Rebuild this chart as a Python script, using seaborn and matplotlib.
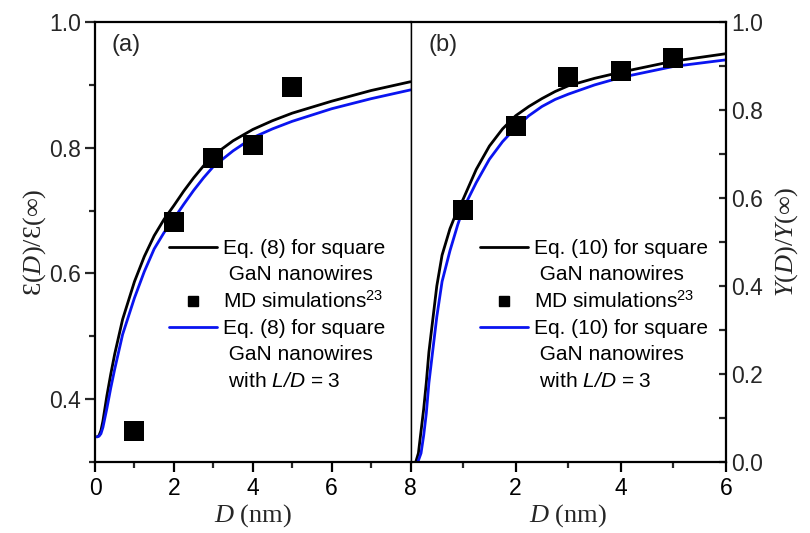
import numpy as np
import pandas as pd
import matplotlib
matplotlib.use("Agg")
import matplotlib.pyplot as plt
import seaborn as sns
from matplotlib.lines import Line2D
from matplotlib.ticker import FixedLocator

# ---------------- data ----------------
md_D = [1, 2, 3, 4, 5]
md_eps = [0.350, 0.682, 0.783, 0.805, 0.896]
md_Y = [0.572, 0.764, 0.874, 0.889, 0.919]

eq8_D = [0.05, 0.1, 0.15, 0.2, 0.3, 0.4, 0.5, 0.7, 1.0, 1.25, 1.5, 1.75, 2.0,
         2.25, 2.5, 2.75, 3.0, 3.5, 4.0, 4.5, 5.0, 6.0, 7.0, 8.0]
eq8_black = [0.340, 0.342, 0.350, 0.365, 0.405, 0.440, 0.472, 0.527, 0.587,
             0.627, 0.660, 0.686, 0.708, 0.731, 0.752, 0.771, 0.788, 0.811,
             0.829, 0.843, 0.855, 0.874, 0.891, 0.905]
eq8_blue = [0.340, 0.341, 0.345, 0.355, 0.385, 0.418, 0.448, 0.503, 0.561,
            0.603, 0.639, 0.665, 0.687, 0.710, 0.732, 0.752, 0.770, 0.795,
            0.816, 0.830, 0.842, 0.862, 0.878, 0.892]

eq10_D_black = [0.10, 0.15, 0.2, 0.25, 0.3, 0.35, 0.4, 0.5, 0.6, 0.75, 0.9,
                1.0, 1.25, 1.5, 1.75, 2.0, 2.25, 2.5, 2.75, 3.0, 3.5, 4.0,
                5.0, 6.0]
eq10_black = [0.0, 0.02, 0.07, 0.12, 0.18, 0.25, 0.30, 0.40, 0.47, 0.53,
              0.575, 0.597, 0.665, 0.718, 0.757, 0.787, 0.808, 0.826, 0.842,
              0.855, 0.872, 0.886, 0.911, 0.928]
eq10_D_blue = [0.14, 0.2, 0.25, 0.3, 0.35, 0.4, 0.5, 0.6, 0.75, 0.9, 1.0,
               1.25, 1.5, 1.75, 2.0, 2.25, 2.5, 2.75, 3.0, 3.5, 4.0, 5.0, 6.0]
eq10_blue = [0.0, 0.02, 0.06, 0.11, 0.18, 0.23, 0.33, 0.41, 0.48, 0.54,
             0.575, 0.635, 0.688, 0.728, 0.760, 0.787, 0.808, 0.824, 0.836,
             0.857, 0.874, 0.899, 0.914]

x_ticks_a = [0, 2, 4, 6, 8]
x_ticks_b = [2, 4, 6]
y_ticks_a = [0.4, 0.6, 0.8, 1.0]
y_ticks_b = [0.0, 0.2, 0.4, 0.6, 0.8, 1.0]

# ---------------- style ----------------
sns.set_theme(style="white")
plt.rcParams["font.family"] = ["Liberation Sans", "DejaVu Sans"]
plt.rcParams["mathtext.fontset"] = "custom"
plt.rcParams["mathtext.rm"] = "Liberation Serif"
plt.rcParams["mathtext.it"] = "Liberation Serif:italic"
plt.rcParams["mathtext.bf"] = "Liberation Sans:italic"
plt.rcParams["mathtext.sf"] = "Liberation Sans"

BLUE = "#0a14f0"
LW = 2.0
TICK_FS = 16.5
LEG_FS = 15
LAB_FS = 19

fig = plt.figure(figsize=(8.10, 5.33), dpi=100)
ax1 = fig.add_axes([0.1173, 0.1332, 0.3895, 0.8255])
ax2 = fig.add_axes([0.5068, 0.1332, 0.3895, 0.8255])

# ---------------- panel (a) ----------------
df_a_black = pd.DataFrame({"D": eq8_D, "v": eq8_black})
df_a_blue = pd.DataFrame({"D": eq8_D, "v": eq8_blue})
df_a_md = pd.DataFrame({"D": md_D, "v": md_eps})
sns.lineplot(data=df_a_black, x="D", y="v", ax=ax1, color="black", lw=LW,
             sort=False, estimator=None)
sns.lineplot(data=df_a_blue, x="D", y="v", ax=ax1, color=BLUE, lw=LW,
             sort=False, estimator=None)
sns.scatterplot(data=df_a_md, x="D", y="v", ax=ax1, marker="s", s=200,
                color="black", edgecolor="black", linewidth=0, zorder=5)

# ---------------- panel (b) ----------------
df_b_black = pd.DataFrame({"D": eq10_D_black, "v": eq10_black})
df_b_blue = pd.DataFrame({"D": eq10_D_blue, "v": eq10_blue})
df_b_md = pd.DataFrame({"D": md_D, "v": md_Y})
sns.lineplot(data=df_b_black, x="D", y="v", ax=ax2, color="black", lw=LW,
             sort=False, estimator=None)
sns.lineplot(data=df_b_blue, x="D", y="v", ax=ax2, color=BLUE, lw=LW,
             sort=False, estimator=None)
sns.scatterplot(data=df_b_md, x="D", y="v", ax=ax2, marker="s", s=200,
                color="black", edgecolor="black", linewidth=0, zorder=5)

# ---------------- axes ----------------
ax1.set_xlim(0, 8)
ax1.set_ylim(0.3, 1.0)
ax2.set_xlim(0, 6)
ax2.set_ylim(0.0, 1.0)

ax1.xaxis.set_major_locator(FixedLocator(x_ticks_a))
ax1.xaxis.set_minor_locator(FixedLocator([1, 3, 5, 7]))
ax1.yaxis.set_major_locator(FixedLocator(y_ticks_a))
ax1.yaxis.set_minor_locator(FixedLocator([0.3, 0.5, 0.7, 0.9]))
ax1.set_xticklabels([str(t) for t in x_ticks_a])
ax1.set_yticklabels([f"{t:.1f}" for t in y_ticks_a])

ax2.xaxis.set_major_locator(FixedLocator(x_ticks_b))
ax2.xaxis.set_minor_locator(FixedLocator([1, 3, 5]))
ax2.yaxis.set_major_locator(FixedLocator(y_ticks_b))
ax2.yaxis.set_minor_locator(FixedLocator([0.1, 0.3, 0.5, 0.7, 0.9]))
ax2.set_xticklabels([str(t) for t in x_ticks_b])
ax2.set_yticklabels([f"{t:.1f}" for t in y_ticks_b])

for ax in (ax1, ax2):
    for sp in ax.spines.values():
        sp.set_linewidth(1.6)
        sp.set_color("black")
    ax.tick_params(axis="x", which="major", direction="out", length=7,
                   width=1.6, labelsize=TICK_FS, bottom=True, top=False,
                   pad=4, colors="black")
    ax.tick_params(axis="x", which="minor", direction="out", length=4,
                   width=1.6, bottom=True, top=False)
    ax.grid(False)

ax1.spines["right"].set_linewidth(1.0)
ax2.spines["left"].set_linewidth(1.0)

ax1.tick_params(axis="y", which="major", direction="out", length=7, width=1.6,
                labelsize=TICK_FS, left=True, right=False, pad=3)
ax1.tick_params(axis="y", which="minor", direction="out", length=4, width=1.6,
                left=True, right=False)
ax2.yaxis.tick_right()
ax2.tick_params(axis="y", which="major", direction="in", length=5, width=1.6,
                labelsize=TICK_FS, left=False, right=True, labelright=True,
                labelleft=False, pad=4)
ax2.tick_params(axis="y", which="minor", direction="in", length=5, width=1.6,
                left=False, right=True)

ax1.set_xlabel(r"$D$ (nm)", fontsize=LAB_FS, fontfamily="Liberation Serif",
               labelpad=1)
ax2.set_xlabel(r"$D$ (nm)", fontsize=LAB_FS, fontfamily="Liberation Serif",
               labelpad=1)
ax1.set_ylabel(r"$\mathrm{Ɛ}(D)/\mathrm{Ɛ}(\infty)$", fontsize=LAB_FS,
               fontfamily="Liberation Serif", labelpad=1)
ax2.yaxis.set_label_position("right")
ax2.set_ylabel(r"$Y(D)/Y(\infty)$", fontsize=LAB_FS,
               fontfamily="Liberation Serif", rotation=90, labelpad=7)

ax1.text(0.098, 0.948, "(a)", transform=ax1.transAxes, fontsize=17,
         ha="center", va="center")
ax2.text(0.103, 0.948, "(b)", transform=ax2.transAxes, fontsize=17,
         ha="center", va="center")

# ---------------- legends ----------------
def make_legend(ax, eqn, x0):
    blank = Line2D([], [], ls="none", marker=None, alpha=0)
    handles = [
        Line2D([], [], color="black", lw=LW),
        blank,
        Line2D([], [], color="black", marker="s", ls="none", markersize=7),
        Line2D([], [], color=BLUE, lw=LW),
        blank,
        blank,
    ]
    labels = [
        f"Eq. ({eqn}) for square",
        " GaN nanowires",
        r"MD simulations$^{\mathsf{23}}$",
        f"Eq. ({eqn}) for square",
        " GaN nanowires",
        " with " + r"$\mathbf{L/D}$" + " = 3",
    ]
    leg = ax.legend(handles, labels, loc="upper left",
                    bbox_to_anchor=(x0, 0.507), frameon=False,
                    fontsize=LEG_FS, handlelength=2.3, handletextpad=0.3,
                    borderpad=0, borderaxespad=0, labelspacing=0.34)
    for t in leg.get_texts():
        t.set_color("black")
    return leg

make_legend(ax1, 8, 0.235)
make_legend(ax2, 10, 0.22)

fig.savefig("out.png", dpi=100)
